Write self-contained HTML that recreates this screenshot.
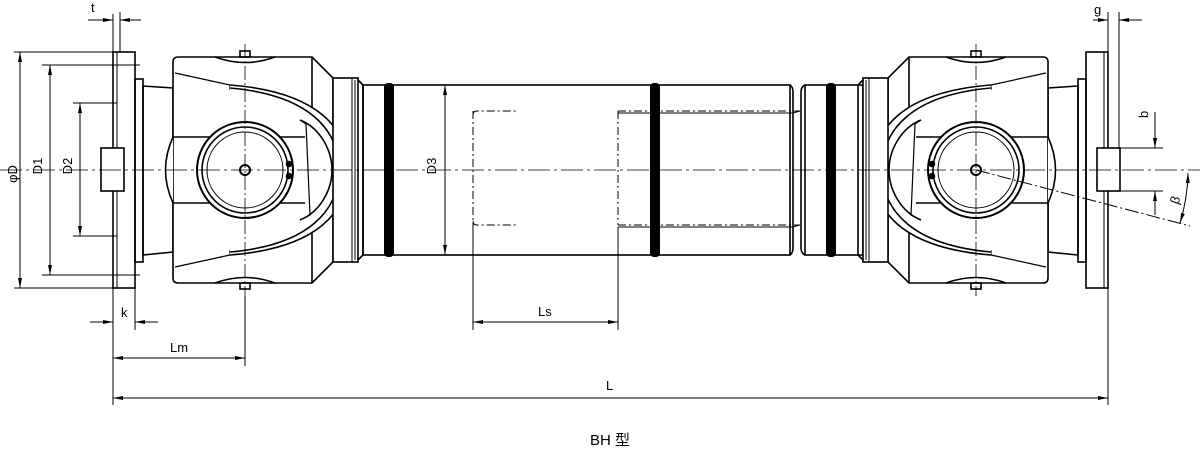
<!DOCTYPE html>
<html><head><meta charset="utf-8"><style>
html,body{margin:0;padding:0;background:#fff;}
svg{display:block;}
text{font-family:"Liberation Sans","Noto Sans CJK SC",sans-serif;fill:#000;}
</style></head><body>
<svg width="1200" height="457" viewBox="0 0 1200 457" xmlns="http://www.w3.org/2000/svg">
<defs>
<marker id="a" viewBox="0 0 10 4" refX="10" refY="2" markerWidth="10" markerHeight="4" orient="auto-start-reverse" markerUnits="userSpaceOnUse"><path d="M0,0 L10,2 L0,4 Z" fill="#000"/></marker>
<g id="unit" fill="none" stroke="#000" stroke-width="1.6">
  <rect x="113" y="52" width="22" height="236" fill="#fff"/>
  <line x1="117" y1="52" x2="117" y2="288" stroke-width="1"/>
  <rect x="101" y="148" width="23" height="43" fill="#fff"/>
  <line x1="117" y1="103" x2="117" y2="148" stroke-width="1" stroke-dasharray="6,3"/>
  <line x1="117" y1="191" x2="117" y2="236" stroke-width="1" stroke-dasharray="6,3"/>
  <rect x="135" y="79" width="8" height="183"/>
  <path d="M143 86 L173 88 L173 252 L143 255 Z"/>
  <path d="M173 62 Q173 57 178 57 L312 57 L333 78 L333 262 L312 283 L178 283 Q173 283 173 278 Z" fill="#fff"/>
  <path d="M215 57 Q245 68 275 57" />
  <path d="M215 283 Q245 272 275 283" />
  <rect x="240" y="51" width="10" height="6"/>
  <rect x="240" y="283" width="10" height="6"/>
  <line x1="312" y1="57" x2="312" y2="283"/>
  <path d="M175 73 L230 85 L230 90" stroke-width="1.2"/>
  <path d="M175 267 L230 255 L230 250" stroke-width="1.2"/>
  <path d="M230 85 C320 92 348 130 348 170 C348 210 320 248 230 255" fill="#fff"/>
  <path d="M230 88 C310 95 338 130 340 170 C338 210 310 245 230 252"/>
  <path d="M300 120 C320 128 332 150 332 170 C332 190 320 212 300 220"/>
  <path d="M300 120 L306 124 L310 215 L300 220" stroke-width="1.2"/>
  <line x1="173" y1="137" x2="305" y2="137"/>
  <line x1="173" y1="203" x2="305" y2="203"/>
  <path d="M173 137 Q158 170 173 203" fill="#fff"/>
  <circle cx="245" cy="170" r="48" fill="#fff" stroke-width="2"/>
  <circle cx="245" cy="170" r="43"/>
  <circle cx="245" cy="170" r="38" stroke-width="1"/>
  <circle cx="245" cy="170" r="5" stroke-width="2"/>
  <circle cx="289" cy="164" r="2.5" fill="#000"/>
  <circle cx="289" cy="176" r="2.5" fill="#000"/>
  <rect x="333" y="78" width="25" height="184" fill="#fff"/>
  <line x1="352" y1="78" x2="352" y2="262" stroke-width="1"/>
  <line x1="355" y1="80" x2="355" y2="260" stroke-width="1"/>
  <path d="M358 80 L363 85 L363 255 L358 260"/>
  <line x1="245" y1="44" x2="245" y2="296" stroke-width="0.8" stroke-dasharray="14,3,2,3"/>
</g>
</defs>

<g fill="none" stroke="#000" stroke-width="1.6">
  <rect x="363" y="85" width="427" height="170" fill="#fff"/>
  <path d="M790 85 Q793 87 793 92 L793 248 Q793 253 790 255"/>
  <path d="M805 85 Q801 87 801 92 L801 248 Q801 253 805 255"/>
  <rect x="805" y="85" width="58" height="170" fill="#fff"/>
  <path d="M473 111 L473 225 M473 115 Q473 111 477 111 L518 111 M473 221 Q473 225 477 225 L518 225" stroke-width="1" stroke-dasharray="8,3,2,3"/>
  <path d="M618 111 L800 111 M618 225 L800 225 M618 111 L618 225" stroke-width="1" stroke-dasharray="8,3,2,3"/>
  <path d="M618 113 L793 113 L800 111 M618 227 L793 227 L800 225" stroke-width="1"/>
</g>
<rect x="384" y="83" width="10" height="174" rx="4" fill="#000"/>
<rect x="650" y="83" width="10" height="174" rx="4" fill="#000"/>
<rect x="826" y="83" width="10" height="174" rx="4" fill="#000"/>

<use href="#unit"/>
<use href="#unit" transform="translate(1221,0) scale(-1,1)"/>

<line x1="0" y1="170" x2="1200" y2="170" stroke="#000" stroke-width="0.8" stroke-dasharray="22,4,3,4"/>

<g stroke="#000" stroke-width="1" fill="none">
  <line x1="14" y1="52" x2="113" y2="52"/><line x1="14" y1="288" x2="113" y2="288"/>
  <line x1="20" y1="52" x2="20" y2="288" marker-start="url(#a)" marker-end="url(#a)"/>
  <line x1="42" y1="65" x2="140" y2="65"/><line x1="42" y1="275" x2="140" y2="275"/>
  <line x1="50" y1="65" x2="50" y2="275" marker-start="url(#a)" marker-end="url(#a)"/>
  <line x1="73" y1="103" x2="117" y2="103"/><line x1="73" y1="236" x2="117" y2="236"/>
  <line x1="80" y1="103" x2="80" y2="236" marker-start="url(#a)" marker-end="url(#a)"/>
  <line x1="445" y1="85" x2="445" y2="255" marker-start="url(#a)" marker-end="url(#a)"/>
  <line x1="113" y1="14" x2="113" y2="52"/><line x1="120" y1="12" x2="120" y2="52"/>
  <line x1="88" y1="20" x2="113" y2="20" marker-end="url(#a)"/><line x1="141" y1="20" x2="120" y2="20" marker-end="url(#a)"/>
  <line x1="1108" y1="12" x2="1108" y2="52"/><line x1="1119" y1="12" x2="1119" y2="148"/>
  <line x1="1093" y1="20" x2="1108" y2="20" marker-end="url(#a)"/><line x1="1142" y1="20" x2="1119" y2="20" marker-end="url(#a)"/>
  <line x1="113" y1="288" x2="113" y2="405"/><line x1="135" y1="288" x2="135" y2="330"/>
  <line x1="90" y1="322" x2="113" y2="322" marker-end="url(#a)"/><line x1="158" y1="322" x2="135" y2="322" marker-end="url(#a)"/>
  <line x1="245" y1="296" x2="245" y2="366"/>
  <line x1="113" y1="358" x2="245" y2="358" marker-start="url(#a)" marker-end="url(#a)"/>
  <line x1="473" y1="225" x2="473" y2="330"/><line x1="618" y1="227" x2="618" y2="330"/>
  <line x1="473" y1="322" x2="618" y2="322" marker-start="url(#a)" marker-end="url(#a)"/>
  <line x1="1108" y1="288" x2="1108" y2="405"/>
  <line x1="113" y1="398" x2="1108" y2="398" marker-start="url(#a)" marker-end="url(#a)"/>
  <line x1="1120" y1="148" x2="1163" y2="148"/><line x1="1120" y1="191" x2="1163" y2="191"/>
  <line x1="1155" y1="112" x2="1155" y2="148" marker-end="url(#a)"/>
  <line x1="1155" y1="215" x2="1155" y2="191" marker-end="url(#a)"/>
  <line x1="976" y1="170" x2="1190" y2="226" stroke-dasharray="14,3,2,3"/>
  <path d="M1188 173 A 180 180 0 0 1 1180 223" marker-start="url(#a)" marker-end="url(#a)"/>
</g>
<g font-size="13">
  <text x="17" y="174" transform="rotate(-90 17 174)" text-anchor="middle">φD</text>
  <text x="46" y="170" transform="rotate(-90 42 170)" text-anchor="middle">D1</text>
  <text x="76" y="170" transform="rotate(-90 72 170)" text-anchor="middle">D2</text>
  <text x="440" y="170" transform="rotate(-90 436 170)" text-anchor="middle">D3</text>
  <text x="91" y="12">t</text>
  <text x="1094" y="14">g</text>
  <text x="121" y="317">k</text>
  <text x="170" y="352">Lm</text>
  <text x="538" y="316">Ls</text>
  <text x="606" y="390">L</text>
  <text x="1148" y="118" transform="rotate(-90 1148 118)">b</text>
  <text x="1178" y="205" transform="rotate(-70 1178 205)">β</text>
  <text x="590" y="445" font-size="15">BH 型</text>
</g>
</svg>
</body></html>
